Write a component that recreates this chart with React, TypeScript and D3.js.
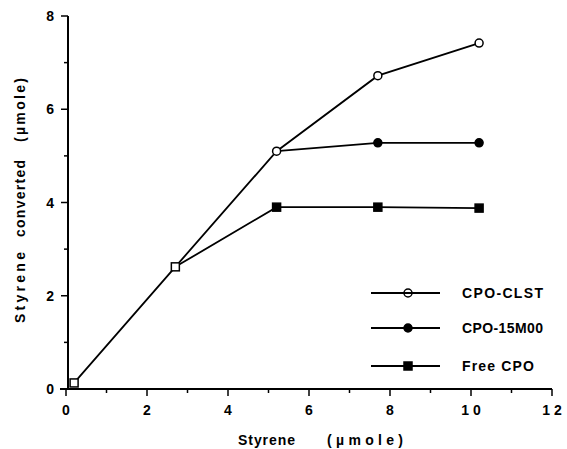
import React, { useRef, useEffect } from "react";
import * as d3 from "d3";

// styrene added (umole)
const xAdded = [0.2, 2.7, 5.2, 7.7, 10.2];
const clst = [0.13, 2.62, 5.1, 6.72, 7.42];
const m15 = [null, null, 5.1, 5.28, 5.28];
const free = [0.13, 2.62, 3.9, 3.9, 3.88];
const xTicks = [0, 2, 4, 6, 8, 10, 12];
const xTickLabels = ["0", "2", "4", "6", "8", "1 0", "1 2"];
const yTicks = [0, 2, 4, 6, 8];
const legendNames = ["CPO-CLST", "CPO-15M00", "Free CPO"];

export default function App() {
  const svgRef = useRef(null);

  useEffect(() => {
    const svg = d3.select(svgRef.current);
    svg.selectAll("*").remove();
    const font = "'Liberation Sans', Arial, sans-serif";

    const x = d3.scaleLinear().domain([0, 12]).range([66, 552]);
    const y = d3.scaleLinear().domain([0, 8]).range([389, 16]);

    // axes
    const g = svg.append("g").attr("stroke", "#000").attr("stroke-width", 2);
    g.append("line").attr("x1", 60).attr("x2", x(12)).attr("y1", y(0)).attr("y2", y(0));
    g.append("line").attr("x1", 68).attr("x2", 68).attr("y1", y(0)).attr("y2", y(8));

    d3.range(0, 13).forEach((t) => {
      const major = t % 2 === 0;
      g.append("line")
        .attr("x1", x(t)).attr("x2", x(t))
        .attr("y1", y(0)).attr("y2", y(0) + (major ? 7 : 4))
        .attr("stroke-width", 1.5);
    });
    d3.range(0, 9).forEach((t) => {
      const major = t % 2 === 0;
      g.append("line")
        .attr("x1", 68).attr("x2", 68 - (major ? 7 : 4))
        .attr("y1", y(t)).attr("y2", y(t))
        .attr("stroke-width", 1.5);
    });

    svg.append("g").selectAll("text").data(xTicks).join("text")
      .attr("x", (d) => x(d))
      .attr("y", 415)
      .attr("text-anchor", "middle")
      .style("font", `bold 14px ${font}`)
      .style("white-space", "pre")
      .text((d, i) => xTickLabels[i]);

    svg.append("g").selectAll("text").data(yTicks).join("text")
      .attr("x", 54)
      .attr("y", (d) => y(d) + 5)
      .attr("text-anchor", "end")
      .style("font", `bold 14px ${font}`)
      .text((d) => d);

    // x title
    [["Styrene", 238, 57], ["(\u00b5mole)", 327, 76]].forEach(([t, px, len]) => {
      svg.append("text")
        .attr("x", px).attr("y", 445)
        .attr("textLength", len)
        .attr("lengthAdjust", "spacing")
        .style("font", `bold 14px ${font}`)
        .text(t);
    });

    // y title
    [["Styrene", 323, 71], ["converted", 237, 77], ["(\u00b5mole)", 142, 64]].forEach(([t, py, len]) => {
      svg.append("text")
        .attr("transform", `translate(25, ${py}) rotate(-90)`)
        .attr("textLength", len)
        .attr("lengthAdjust", "spacing")
        .style("font", `bold 14px ${font}`)
        .text(t);
    });

    const line = d3.line<any>()
      .defined((d) => d[1] != null)
      .x((d) => x(d[0]))
      .y((d) => y(d[1]));

    const pts = (ys) => xAdded.map((v, i) => [v, ys[i]]);
    [clst, m15, free].forEach((ys, k) => {
      const data = k === 2 ? pts(ys).slice(1) : pts(ys);
      svg.append("path")
        .datum(data)
        .attr("fill", "none")
        .attr("stroke", "#000")
        .attr("stroke-width", 1.8)
        .attr("d", line);
    });

    // markers
    const mk = svg.append("g").attr("stroke", "#000").attr("stroke-width", 1.5);
    const drawMarker = (sel, kind, cx, cy) => {
      if (kind === 0) {
        sel.append("circle").attr("cx", cx).attr("cy", cy).attr("r", 4).attr("fill", "#fff");
      } else if (kind === 1) {
        sel.append("circle").attr("cx", cx).attr("cy", cy).attr("r", 4).attr("fill", "#000");
      } else if (kind === 2) {
        sel.append("rect").attr("x", cx - 4).attr("y", cy - 4).attr("width", 8).attr("height", 8).attr("fill", "#000");
      } else {
        sel.append("rect").attr("x", cx - 4).attr("y", cy - 4).attr("width", 8).attr("height", 8).attr("fill", "#fff");
      }
    };
    xAdded.forEach((v, i) => {
      if (i < 2) {
        drawMarker(mk, 3, x(v), y(free[i]));
        return;
      }
      drawMarker(mk, 0, x(v), y(clst[i]));
      if (i > 2) drawMarker(mk, 1, x(v), y(m15[i]));
      drawMarker(mk, 2, x(v), y(free[i]));
    });

    // legend
    const legY = [293, 328, 366];
    const legLen = [81, 81, 72];
    legendNames.forEach((name, i) => {
      svg.append("line")
        .attr("x1", 371).attr("x2", 440)
        .attr("y1", legY[i]).attr("y2", legY[i])
        .attr("stroke", "#000").attr("stroke-width", 1.8);
      drawMarker(mk, i, 408, legY[i]);
      svg.append("text")
        .attr("x", 462).attr("y", legY[i] + 5)
        .attr("textLength", legLen[i])
        .attr("lengthAdjust", "spacing")
        .style("font", `bold 14px ${font}`)
        .text(name);
    });
  }, []);

  return (
    <svg
      ref={svgRef}
      width={567}
      height={449}
      style={{ position: "absolute", left: 0, top: 0, display: "block" }}
    ></svg>
  );
}
